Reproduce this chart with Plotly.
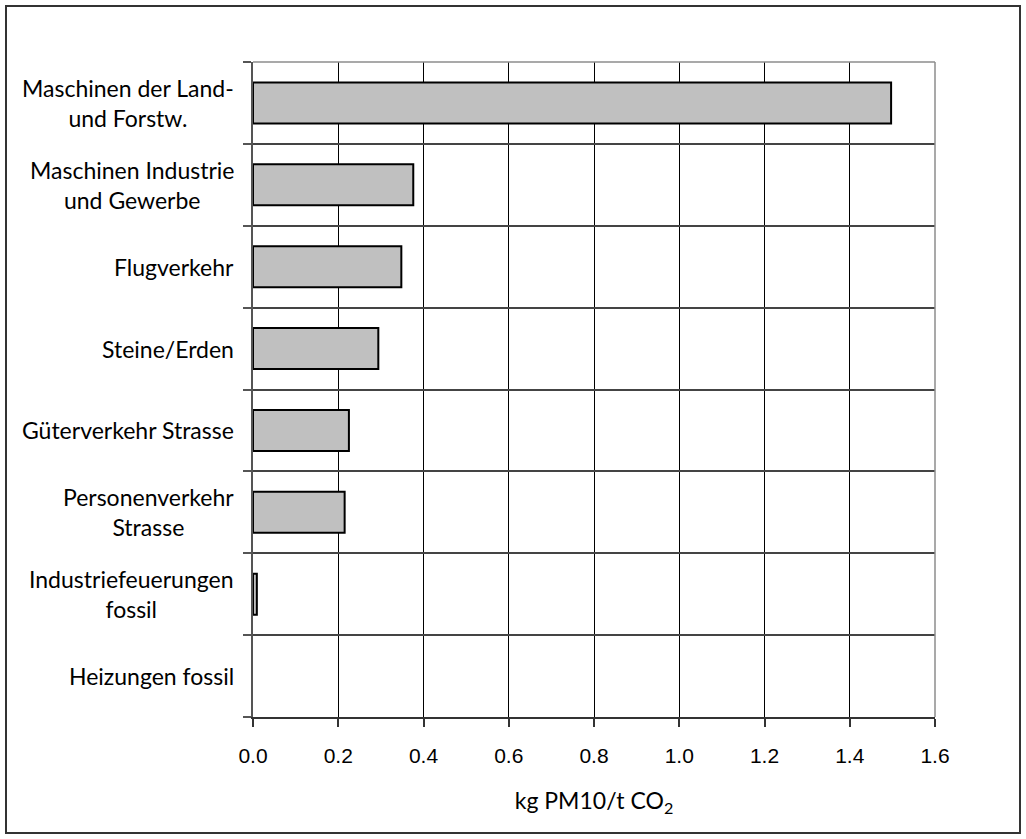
import plotly.graph_objects as go

# Emission factors of PM10 per tonne of CO2, by source group
categories = [
    "Maschinen der Land-<br>und Forstw.",
    "Maschinen Industrie<br>und Gewerbe",
    "Flugverkehr",
    "Steine/Erden",
    "Güterverkehr Strasse",
    "Personenverkehr<br>Strasse",
    "Industriefeuerungen<br>fossil",
    "Heizungen fossil",
]
values = [1.497, 0.376, 0.348, 0.294, 0.225, 0.215, 0.009, 0.0]
x_ticks = [0.0, 0.2, 0.4, 0.6, 0.8, 1.0, 1.2, 1.4, 1.6]
x_title = "kg PM10/t CO<sub>2</sub>"

W, H = 1026, 839
L, R, T, B = 253, 935, 62, 717

label_font = dict(family="Lato, 'Noto Sans', sans-serif", size=23, color="black")

# zero-length bars get no outline
outline_widths = [2 if v > 0 else 0 for v in values]

fig = go.Figure(
    go.Bar(
        x=values,
        y=categories,
        orientation="h",
        marker=dict(color="#c0c0c0", line=dict(color="black", width=outline_widths)),
        hoverinfo="skip",
    )
)

# Category labels, right-aligned as a block with centered lines
for cat in categories:
    fig.add_annotation(
        x=0, xref="paper", xshift=-17,
        y=cat, yref="y",
        text=cat, showarrow=False,
        xanchor="right", yanchor="middle", align="center",
        font=label_font,
    )

# Frame around the whole figure
def px_x(p):
    return (p - L) / (R - L)

def px_y(p):
    return (B - p) / (B - T)

fig.add_shape(
    type="rect", xref="paper", yref="paper",
    x0=px_x(6), x1=px_x(1020), y0=px_y(833), y1=px_y(6),
    line=dict(color="#333333", width=2), fillcolor="rgba(0,0,0,0)",
)

# Upper and right border of the plot area
fig.add_shape(type="line", xref="paper", yref="paper", x0=0, x1=1, y0=1, y1=1,
              line=dict(color="#8c8c8c", width=1.5))
fig.add_shape(type="line", xref="paper", yref="paper", x0=1, x1=1, y0=0, y1=1,
              line=dict(color="#8c8c8c", width=1.5))

fig.update_layout(
    width=W, height=H,
    margin=dict(l=L, r=W - R, t=T, b=H - B, autoexpand=False),
    paper_bgcolor="white", plot_bgcolor="white",
    bargap=0.5,
    showlegend=False,
    xaxis=dict(
        range=[0, 1.6],
        tickvals=x_ticks,
        ticktext=[f"{v:.1f}" for v in x_ticks],
        tickfont=dict(family="'Liberation Sans', Arial, sans-serif", size=21, color="black"),
        ticks="outside", ticklen=8, tickcolor="#333333", tickwidth=1.5,
        ticklabelstandoff=11,
        showgrid=True, gridcolor="black", gridwidth=1,
        showline=True, linecolor="#333333", linewidth=2,
        zeroline=False,
        title=dict(text=x_title, font=label_font, standoff=27),
        fixedrange=True,
    ),
    yaxis=dict(
        type="category",
        categoryorder="array",
        categoryarray=categories[::-1],
        tickson="boundaries",
        showticklabels=False,
        ticks="outside", ticklen=8, tickcolor="#555555", tickwidth=1.5,
        showgrid=True, gridcolor="#444444", gridwidth=1.5,
        showline=True, linecolor="#555555", linewidth=2,
        zeroline=False,
        fixedrange=True,
    ),
)

fig.write_html("out.html")
